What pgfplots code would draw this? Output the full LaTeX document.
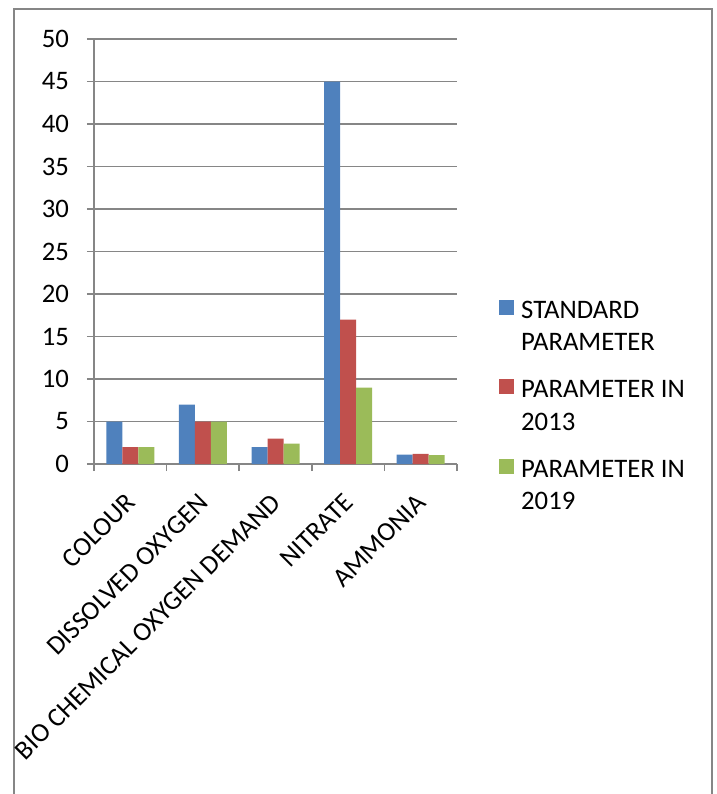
\documentclass[border=0pt]{standalone}
\usepackage{pgfplots}
\pgfplotsset{compat=1.18}
\usepackage{fontspec}
\setmainfont{Carlito}
\definecolor{sblue}{HTML}{4F81BD}
\definecolor{sred}{HTML}{C0504D}
\definecolor{sgreen}{HTML}{9BBB59}
\definecolor{axgray}{HTML}{868686}
\begin{document}
\fontsize{26.7}{32.5}\selectfont
\begin{tikzpicture}
\useasboundingbox (0,0) rectangle (716pt,-794pt);
\draw[axgray, line width=2pt] (14pt,-800pt) -- (14pt,-9pt) -- (712pt,-9pt) -- (712pt,-800pt);
\begin{axis}[
  at={(94pt,-464pt)}, anchor=south west,
  scale only axis, width=363pt, height=425pt,
  xmin=-0.5, xmax=4.5, ymin=0, ymax=50,
  ybar=0pt, bar width=16pt,
  axis lines=left,
  axis line style={draw=axgray, line width=1.5pt, -},
  tick style={draw=axgray, line width=1.5pt},
  tick align=outside,
  major tick length=7pt,
  ytick={0,5,...,50},
  ymajorgrids,
  grid style={draw=axgray, line width=1.2pt},
  xtick={-0.5,0.5,...,4.5},
  xticklabels={,,,,,,},
  extra x ticks={0,1,2,3,4},
  extra x tick labels={COLOUR,DISSOLVED OXYGEN,BIO CHEMICAL OXYGEN DEMAND,NITRATE,AMMONIA},
  extra x tick style={major tick length=0pt, xticklabel style={xshift=7pt, yshift=-28pt, rotate=45, anchor=east}},
  /pgf/number format/assume math mode=true,
  yticklabel style={font=\fontsize{26.7}{30}\selectfont, xshift=-9pt},
  xticklabel style={font=\fontsize{26.7}{30}\selectfont},
  legend cell align=left,
  legend image code/.code={\fill[#1] (0pt,-6pt) rectangle (15pt,9pt);},
  legend style={at={(1.1157,0.4018)}, anchor=north west, draw=none, fill=none,
    inner sep=0pt, row sep=48.7pt, font=\fontsize{26.7}{32.5}\selectfont,
    /tikz/every odd column/.append style={column sep=5pt}},
]
\addplot[fill=sblue, draw=none] coordinates {(0,5) (1,7) (2,2) (3,45) (4,1.1)};
\addplot[fill=sred, draw=none] coordinates {(0,2) (1,5) (2,3) (3,17) (4,1.2)};
\addplot[fill=sgreen, draw=none] coordinates {(0,2) (1,5) (2,2.4) (3,9) (4,1.05)};
\addlegendentry{\begin{tabular}[t]{@{}l@{}}STANDARD\\PARAMETER\end{tabular}}
\addlegendentry{\begin{tabular}[t]{@{}l@{}}PARAMETER IN\\2013\end{tabular}}
\addlegendentry{\begin{tabular}[t]{@{}l@{}}PARAMETER IN\\2019\end{tabular}}
\end{axis}
\end{tikzpicture}
\end{document}
